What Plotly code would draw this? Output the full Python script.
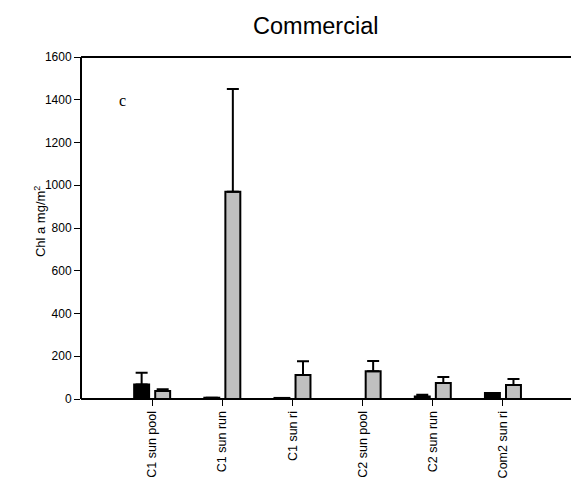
import plotly.graph_objects as go

categories = ["C1 sun pool", "C1 sun run", "C1 sun ri", "C2 sun pool", "C2 sun run", "Com2 sun ri"]
black_vals = [68, 6, 5, 0, 12, 28]
black_err = [55, 0, 0, 0, 8, 0]
gray_vals = [38, 970, 112, 130, 75, 65]
gray_err = [8, 480, 65, 48, 28, 28]
y_ticks = [0, 200, 400, 600, 800, 1000, 1200, 1400, 1600]

err_style = dict(type="data", symmetric=False, color="black", thickness=2, width=6)

fig = go.Figure()
fig.add_trace(go.Bar(
    x=categories, y=black_vals, marker=dict(color="black", line=dict(color="black", width=2)),
    error_y=dict(array=black_err, arrayminus=[0] * len(black_err), **err_style),
    showlegend=False,
))
fig.add_trace(go.Bar(
    x=categories, y=gray_vals, marker=dict(color="#C0C0C0", line=dict(color="black", width=2)),
    error_y=dict(array=gray_err, arrayminus=[0] * len(gray_err), **err_style),
    showlegend=False,
))

frame_line = dict(color="black", width=2)
fig.update_layout(
    width=571, height=498,
    margin=dict(l=82, r=0, t=57, b=99),
    paper_bgcolor="white", plot_bgcolor="white",
    barmode="group", bargap=0.40, bargroupgap=0.29,
    font=dict(family="Arial, Liberation Sans, sans-serif", color="black", size=12),
    title=dict(text="Commercial", x=0.553, xanchor="center", y=0.948, yanchor="middle",
               font=dict(size=23.5, color="black")),
    xaxis=dict(
        type="category", range=[-1, 5.97], showline=False,
        ticks="outside", ticklen=6, tickcolor="black", tickwidth=1,
        tickangle=-90, tickfont=dict(size=12.5), showgrid=False, zeroline=False,
    ),
    yaxis=dict(
        range=[0, 1600], tickvals=y_ticks, showline=True, linecolor="black", linewidth=2,
        ticks="outside", ticklen=6, tickcolor="black", tickwidth=1, showgrid=False,
        zeroline=False, tickfont=dict(size=12),
    ),
    shapes=[
        dict(type="line", xref="paper", yref="paper", x0=-0.002, x1=1.06, y0=0, y1=0,
             line=frame_line, layer="above"),
        dict(type="line", xref="paper", yref="paper", x0=-0.002, x1=1.06, y0=1, y1=1,
             line=frame_line, layer="above"),
    ],
    annotations=[
        dict(
            x=-0.42, y=1395, xref="x", yref="y", text="c", showarrow=False,
            font=dict(family="Liberation Serif, Times New Roman, serif", size=16, color="black"),
        ),
        dict(
            x=-0.086, y=0.52, xref="paper", yref="paper", text="Chl a mg/m<sup>2</sup>",
            textangle=-90, showarrow=False, xanchor="center", yanchor="middle",
            font=dict(size=13, color="black"),
        ),
    ],
)

fig.write_html(
    "out.html",
    config={"displayModeBar": False},
    post_script=(
        "var de=document.documentElement, b=document.body;"
        "de.style.margin='0';b.style.margin='0';b.style.padding='0';"
        "de.style.overflow='hidden';b.style.overflow='hidden';"
    ),
)
